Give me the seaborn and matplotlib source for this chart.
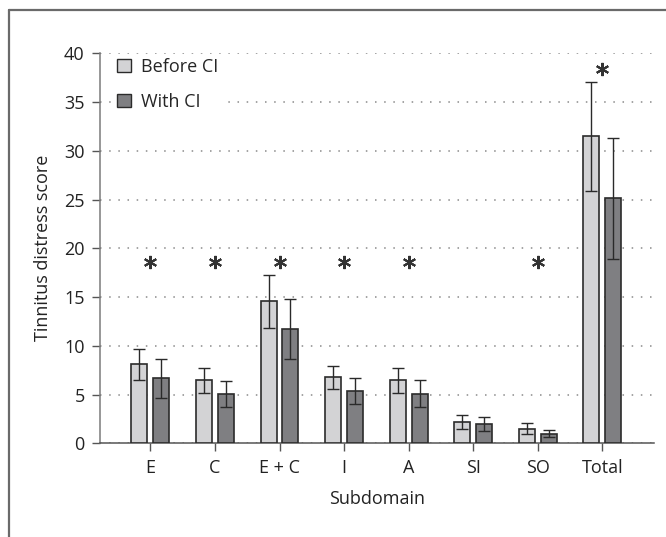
import numpy as np
import pandas as pd
import matplotlib
matplotlib.use("Agg")
import matplotlib.pyplot as plt
from matplotlib.lines import Line2D
import seaborn as sns

# ---- data ----
categories = ["E", "C", "E + C", "I", "A", "SI", "SO", "Total"]
before_mean = [8.1, 6.45, 14.55, 6.75, 6.45, 2.2, 1.5, 31.5]
before_sd = [1.6, 1.25, 2.75, 1.15, 1.25, 0.7, 0.55, 5.6]
with_mean = [6.65, 5.05, 11.7, 5.35, 5.1, 1.95, 1.0, 25.15]
with_sd = [2.0, 1.3, 3.1, 1.3, 1.35, 0.72, 0.4, 6.2]
series_names = ["Before CI", "With CI"]
significant = ["E", "C", "E + C", "I", "A", "SO", "Total"]
star_y = [18.6, 18.6, 18.6, 18.6, 18.6, 18.6, 38.4]
yticks = [0, 5, 10, 15, 20, 25, 30, 35, 40]

colors = {"Before CI": "#d3d3d5", "With CI": "#7e7f83"}

df = pd.DataFrame({
    "Subdomain": categories * 2,
    "group": [series_names[0]] * len(categories) + [series_names[1]] * len(categories),
    "score": before_mean + with_mean,
    "sd": before_sd + with_sd,
})

sns.set_theme(style="white")
plt.rcParams["font.family"] = ["Open Sans", "DejaVu Sans"]
FS = 13

fig = plt.figure(figsize=(6.66, 5.37), dpi=100)
ax = fig.add_axes([100 / 666, 1 - 443.3 / 537, 554 / 666, 390 / 537])

sns.barplot(data=df, x="Subdomain", y="score", hue="group", order=categories,
            hue_order=series_names, palette=colors, errorbar=None,
            width=0.68, gap=0.27, edgecolor="#2b2b2b", linewidth=1.2,
            ax=ax, zorder=3)

# error bars at the bar centres
for container, name in zip(ax.containers, series_names):
    sub = df[df["group"] == name].set_index("Subdomain").loc[categories]
    xs = [p.get_x() + p.get_width() / 2 for p in container.patches]
    ax.errorbar(xs, sub["score"].values, yerr=sub["sd"].values, fmt="none",
                ecolor="#2a2a2a", elinewidth=1.0, capsize=4.3, capthick=1.0,
                zorder=4)

# significance asterisks
pos = {c: i for i, c in enumerate(categories)}
ax.plot([pos[c] for c in significant], star_y, linestyle="none",
        marker=(6, 2, 0), markersize=9.5, markeredgewidth=1.5,
        color="#333333", zorder=5)

ax.set_ylim(0, 40)
ax.set_xlim(-0.78, 7.8)
ax.set_yticks(yticks)
ax.yaxis.grid(True, color="#8a8a8a", linestyle=(0, (1.0, 5.0)), linewidth=1.1)
ax.set_axisbelow(True)

for s in ["top", "right"]:
    ax.spines[s].set_visible(False)
ax.spines["left"].set_color("#7a7a7a")
ax.spines["left"].set_linewidth(1.1)
ax.spines["bottom"].set_color("#555555")
ax.spines["bottom"].set_linewidth(1.1)

ax.tick_params(axis="y", direction="out", length=6, width=1.0, color="#555555",
               pad=5, labelsize=FS, labelcolor="#222222", left=True)
ax.tick_params(axis="x", direction="out", length=6, width=1.0, color="#555555",
               pad=5, labelsize=FS, labelcolor="#222222", bottom=True)

ax.set_xlabel("Subdomain", fontsize=FS, color="#222222", labelpad=10)
ax.set_ylabel("Tinnitus distress score", fontsize=FS, color="#222222", labelpad=9)

leg = ax.legend(loc="upper left", bbox_to_anchor=(0.025, 0.997), frameon=True,
                fontsize=FS, handlelength=0.75, handleheight=0.75,
                handletextpad=0.55, labelspacing=0.93, borderpad=0.2,
                borderaxespad=0.0)
leg.get_frame().set_facecolor("white")
leg.get_frame().set_edgecolor("none")
leg.get_frame().set_alpha(1)
for h in leg.legend_handles:
    h.set_edgecolor("#2b2b2b")
    h.set_linewidth(1.0)

# outer frame lines (top and left)
fig.add_artist(Line2D([9 / 666, 1], [1 - 10 / 537, 1 - 10 / 537],
                      transform=fig.transFigure, color="#6a6a6a", linewidth=1.6))
fig.add_artist(Line2D([9 / 666, 9 / 666], [0, 1 - 10 / 537],
                      transform=fig.transFigure, color="#6a6a6a", linewidth=1.6))

fig.savefig("out.png", dpi=100, facecolor="white")
